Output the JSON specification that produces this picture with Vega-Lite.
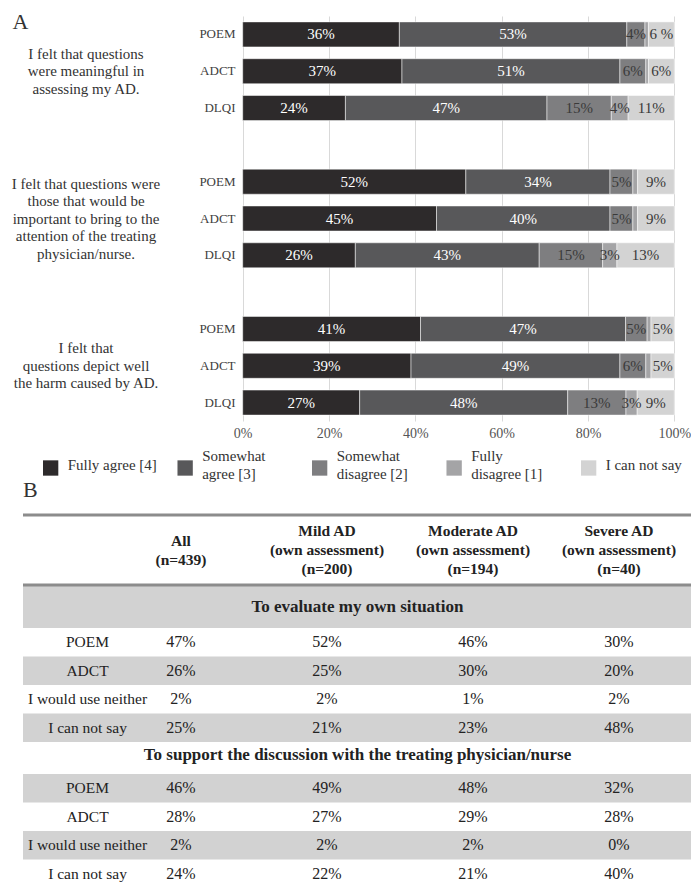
{
  "$schema": "https://vega.github.io/schema/vega-lite/v6.json",
  "background": "white",
  "padding": {"left": 11, "top": 10, "right": 0, "bottom": 0},
  "autosize": {"type": "pad"},
  "bounds": "flush",
  "spacing": 0,
  "datasets": {
    "bars": [
      {"row": "Q1 POEM", "cat": "Fully agree [4]", "score": 4, "pct": 36.3, "label": "36%"},
      {"row": "Q1 POEM", "cat": "Somewhat agree [3]", "score": 3, "pct": 52.7, "label": "53%"},
      {"row": "Q1 POEM", "cat": "Somewhat disagree [2]", "score": 2, "pct": 4.2, "label": "4%"},
      {"row": "Q1 POEM", "cat": "Fully disagree [1]", "score": 1, "pct": 0.8, "label": ""},
      {"row": "Q1 POEM", "cat": "I can not say", "score": 0, "pct": 6.0, "label": "6 %"},
      {"row": "Q1 ADCT", "cat": "Fully agree [4]", "score": 4, "pct": 36.9, "label": "37%"},
      {"row": "Q1 ADCT", "cat": "Somewhat agree [3]", "score": 3, "pct": 50.5, "label": "51%"},
      {"row": "Q1 ADCT", "cat": "Somewhat disagree [2]", "score": 2, "pct": 6.0, "label": "6%"},
      {"row": "Q1 ADCT", "cat": "Fully disagree [1]", "score": 1, "pct": 0.6, "label": ""},
      {"row": "Q1 ADCT", "cat": "I can not say", "score": 0, "pct": 6.0, "label": "6%"},
      {"row": "Q1 DLQI", "cat": "Fully agree [4]", "score": 4, "pct": 23.8, "label": "24%"},
      {"row": "Q1 DLQI", "cat": "Somewhat agree [3]", "score": 3, "pct": 46.7, "label": "47%"},
      {"row": "Q1 DLQI", "cat": "Somewhat disagree [2]", "score": 2, "pct": 14.9, "label": "15%"},
      {"row": "Q1 DLQI", "cat": "Fully disagree [1]", "score": 1, "pct": 3.9, "label": "4%"},
      {"row": "Q1 DLQI", "cat": "I can not say", "score": 0, "pct": 10.7, "label": "11%"},
      {"row": "Q2 POEM", "cat": "Fully agree [4]", "score": 4, "pct": 51.7, "label": "52%"},
      {"row": "Q2 POEM", "cat": "Somewhat agree [3]", "score": 3, "pct": 33.4, "label": "34%"},
      {"row": "Q2 POEM", "cat": "Somewhat disagree [2]", "score": 2, "pct": 5.3, "label": "5%"},
      {"row": "Q2 POEM", "cat": "Fully disagree [1]", "score": 1, "pct": 1.1, "label": ""},
      {"row": "Q2 POEM", "cat": "I can not say", "score": 0, "pct": 8.5, "label": "9%"},
      {"row": "Q2 ADCT", "cat": "Fully agree [4]", "score": 4, "pct": 44.9, "label": "45%"},
      {"row": "Q2 ADCT", "cat": "Somewhat agree [3]", "score": 3, "pct": 40.2, "label": "40%"},
      {"row": "Q2 ADCT", "cat": "Somewhat disagree [2]", "score": 2, "pct": 5.3, "label": "5%"},
      {"row": "Q2 ADCT", "cat": "Fully disagree [1]", "score": 1, "pct": 1.1, "label": ""},
      {"row": "Q2 ADCT", "cat": "I can not say", "score": 0, "pct": 8.5, "label": "9%"},
      {"row": "Q2 DLQI", "cat": "Fully agree [4]", "score": 4, "pct": 26.1, "label": "26%"},
      {"row": "Q2 DLQI", "cat": "Somewhat agree [3]", "score": 3, "pct": 42.6, "label": "43%"},
      {"row": "Q2 DLQI", "cat": "Somewhat disagree [2]", "score": 2, "pct": 14.7, "label": "15%"},
      {"row": "Q2 DLQI", "cat": "Fully disagree [1]", "score": 1, "pct": 3.3, "label": "3%"},
      {"row": "Q2 DLQI", "cat": "I can not say", "score": 0, "pct": 13.3, "label": "13%"},
      {"row": "Q3 POEM", "cat": "Fully agree [4]", "score": 4, "pct": 41.2, "label": "41%"},
      {"row": "Q3 POEM", "cat": "Somewhat agree [3]", "score": 3, "pct": 47.5, "label": "47%"},
      {"row": "Q3 POEM", "cat": "Somewhat disagree [2]", "score": 2, "pct": 5.0, "label": "5%"},
      {"row": "Q3 POEM", "cat": "Fully disagree [1]", "score": 1, "pct": 0.9, "label": ""},
      {"row": "Q3 POEM", "cat": "I can not say", "score": 0, "pct": 5.4, "label": "5%"},
      {"row": "Q3 ADCT", "cat": "Fully agree [4]", "score": 4, "pct": 39.0, "label": "39%"},
      {"row": "Q3 ADCT", "cat": "Somewhat agree [3]", "score": 3, "pct": 48.4, "label": "49%"},
      {"row": "Q3 ADCT", "cat": "Somewhat disagree [2]", "score": 2, "pct": 6.0, "label": "6%"},
      {"row": "Q3 ADCT", "cat": "Fully disagree [1]", "score": 1, "pct": 1.2, "label": ""},
      {"row": "Q3 ADCT", "cat": "I can not say", "score": 0, "pct": 5.4, "label": "5%"},
      {"row": "Q3 DLQI", "cat": "Fully agree [4]", "score": 4, "pct": 27.1, "label": "27%"},
      {"row": "Q3 DLQI", "cat": "Somewhat agree [3]", "score": 3, "pct": 48.2, "label": "48%"},
      {"row": "Q3 DLQI", "cat": "Somewhat disagree [2]", "score": 2, "pct": 13.5, "label": "13%"},
      {"row": "Q3 DLQI", "cat": "Fully disagree [1]", "score": 1, "pct": 2.6, "label": "3%"},
      {"row": "Q3 DLQI", "cat": "I can not say", "score": 0, "pct": 8.6, "label": "9%"}
    ],
    "questions": [
      {"row": "Q1 ADCT", "text": "I felt that questions\nwere meaningful in\nassessing my AD."},
      {"row": "Q2 ADCT", "text": "I felt that questions were\nthose that would be\nimportant to bring to the\nattention of the treating\nphysician/nurse."},
      {"row": "Q3 ADCT", "text": "I felt that\nquestions depict well\nthe harm caused by AD."}
    ],
    "legend": [
      {"cat": "Fully agree [4]", "label": "Fully agree [4]"},
      {"cat": "Somewhat agree [3]", "label": "Somewhat\nagree [3]"},
      {"cat": "Somewhat disagree [2]", "label": "Somewhat\ndisagree [2]"},
      {"cat": "Fully disagree [1]", "label": "Fully\ndisagree [1]"},
      {"cat": "I can not say", "label": "I can not say"}
    ],
    "headers": [
      {"group": "All", "text": "All\n(n=439)"},
      {"group": "Mild", "text": "Mild AD\n(own assessment)\n(n=200)"},
      {"group": "Moderate", "text": "Moderate AD\n(own assessment)\n(n=194)"},
      {"group": "Severe", "text": "Severe AD\n(own assessment)\n(n=40)"}
    ],
    "table": [
      {"purpose": "own", "item": "POEM", "group": "All", "share": 0.47},
      {"purpose": "own", "item": "POEM", "group": "Mild", "share": 0.52},
      {"purpose": "own", "item": "POEM", "group": "Moderate", "share": 0.46},
      {"purpose": "own", "item": "POEM", "group": "Severe", "share": 0.30},
      {"purpose": "own", "item": "ADCT", "group": "All", "share": 0.26},
      {"purpose": "own", "item": "ADCT", "group": "Mild", "share": 0.25},
      {"purpose": "own", "item": "ADCT", "group": "Moderate", "share": 0.30},
      {"purpose": "own", "item": "ADCT", "group": "Severe", "share": 0.20},
      {"purpose": "own", "item": "I would use neither", "group": "All", "share": 0.02},
      {"purpose": "own", "item": "I would use neither", "group": "Mild", "share": 0.02},
      {"purpose": "own", "item": "I would use neither", "group": "Moderate", "share": 0.01},
      {"purpose": "own", "item": "I would use neither", "group": "Severe", "share": 0.02},
      {"purpose": "own", "item": "I can not say", "group": "All", "share": 0.25},
      {"purpose": "own", "item": "I can not say", "group": "Mild", "share": 0.21},
      {"purpose": "own", "item": "I can not say", "group": "Moderate", "share": 0.23},
      {"purpose": "own", "item": "I can not say", "group": "Severe", "share": 0.48},
      {"purpose": "discuss", "item": "POEM", "group": "All", "share": 0.46},
      {"purpose": "discuss", "item": "POEM", "group": "Mild", "share": 0.49},
      {"purpose": "discuss", "item": "POEM", "group": "Moderate", "share": 0.48},
      {"purpose": "discuss", "item": "POEM", "group": "Severe", "share": 0.32},
      {"purpose": "discuss", "item": "ADCT", "group": "All", "share": 0.28},
      {"purpose": "discuss", "item": "ADCT", "group": "Mild", "share": 0.27},
      {"purpose": "discuss", "item": "ADCT", "group": "Moderate", "share": 0.29},
      {"purpose": "discuss", "item": "ADCT", "group": "Severe", "share": 0.28},
      {"purpose": "discuss", "item": "I would use neither", "group": "All", "share": 0.02},
      {"purpose": "discuss", "item": "I would use neither", "group": "Mild", "share": 0.02},
      {"purpose": "discuss", "item": "I would use neither", "group": "Moderate", "share": 0.02},
      {"purpose": "discuss", "item": "I would use neither", "group": "Severe", "share": 0.0},
      {"purpose": "discuss", "item": "I can not say", "group": "All", "share": 0.24},
      {"purpose": "discuss", "item": "I can not say", "group": "Mild", "share": 0.22},
      {"purpose": "discuss", "item": "I can not say", "group": "Moderate", "share": 0.21},
      {"purpose": "discuss", "item": "I can not say", "group": "Severe", "share": 0.40}
    ]
  },
  "vconcat": [
    {
      "width": 669, "height": 405,
      "encoding": {
        "y": {"field": "row", "type": "nominal", "title": null,
          "scale": {"domain": ["Q1 POEM","Q1 ADCT","Q1 DLQI","gap 1","Q2 POEM","Q2 ADCT","Q2 DLQI","gap 2","Q3 POEM","Q3 ADCT","Q3 DLQI"], "paddingInner": 0.32, "paddingOuter": 0.16},
          "axis": {"ticks": false, "domain": false, "offset": -212, "labelPadding": 0, "labelFontSize": 13, "labelColor": "#404040",
            "labelExpr": "indexof(datum.value, 'gap') == 0 ? '' : slice(datum.value, 3)"}}
      },
      "layer": [
        {
          "data": {"name": "bars"},
          "mark": {"type": "bar", "stroke": "white", "strokeWidth": 0.5},
          "encoding": {
            "x": {"field": "pct", "type": "quantitative", "stack": "zero", "title": null,
              "scale": {"domain": [-50.9, 104.1], "nice": false, "zero": false},
              "axis": {"values": [0, 20, 40, 60, 80, 100], "labelExpr": "datum.value + '%'", "grid": true, "gridColor": "#d9d9d9",
                "domain": false, "ticks": false, "labelFontSize": 14, "labelColor": "#555", "labelPadding": 5, "labelFlush": false}},
            "color": {"field": "cat", "type": "nominal", "legend": null,
              "scale": {"domain": ["Fully agree [4]","Somewhat agree [3]","Somewhat disagree [2]","Fully disagree [1]","I can not say"],
                "range": ["#2d2a2b","#58585a","#7e7e80","#a4a4a6","#d3d3d3"]}},
            "order": {"field": "score", "sort": "descending"}
          }
        },
        {
          "data": {"name": "bars"},
          "mark": {"type": "text", "fontSize": 15, "baseline": "middle"},
          "encoding": {
            "x": {"field": "pct", "type": "quantitative", "stack": "zero", "bandPosition": 0.5},
            "detail": {"field": "cat"},
            "order": {"field": "score", "sort": "descending"},
            "text": {"field": "label"},
            "color": {"condition": {"test": "datum.score >= 3", "value": "white"}, "value": "#3a3a3a"}
          }
        },
        {
          "data": {"name": "questions"},
          "transform": [{"filter": "datum.row != 'Q2 ADCT'"}],
          "mark": {"type": "text", "lineBreak": "\n", "fontSize": 15, "lineHeight": 17.5, "color": "#333", "baseline": "middle", "dy": -17.5},
          "encoding": {
            "x": {"datum": -36.3, "type": "quantitative"},
            "text": {"field": "text"}
          }
        },
        {
          "data": {"name": "questions"},
          "transform": [{"filter": "datum.row == 'Q2 ADCT'"}],
          "mark": {"type": "text", "lineBreak": "\n", "fontSize": 15, "lineHeight": 17.5, "color": "#333", "baseline": "middle", "dy": -35},
          "encoding": {
            "x": {"datum": -36.3, "type": "quantitative"},
            "text": {"field": "text"}
          }
        },
        {
          "data": {"values": [{"t": "A"}]},
          "mark": {"type": "text", "fontSize": 22, "color": "#333", "baseline": "middle"},
          "encoding": {
            "x": {"datum": -51.5, "type": "quantitative"},
            "y": {"datum": "Q1 POEM", "type": "nominal", "bandPosition": 0},
            "text": {"field": "t"}
          }
        }
      ]
    },
    {
      "width": 669, "height": 94,
      "data": {"name": "legend"},
      "encoding": {
        "x": {"field": "cat", "type": "nominal", "axis": null,
          "scale": {"type": "point", "domain": ["Fully agree [4]","Somewhat agree [3]","Somewhat disagree [2]","Fully disagree [1]","I can not say"], "padding": 0.487, "align": 0.211}}
      },
      "layer": [
        {
          "mark": {"type": "square", "size": 235, "opacity": 1, "dy": -3},
          "encoding": {"color": {"field": "cat", "type": "nominal", "legend": null}}
        },
        {
          "transform": [{"filter": "indexof(datum.label, '\\n') < 0"}],
          "mark": {"type": "text", "align": "left", "dx": 17, "dy": -3, "fontSize": 15, "color": "#333", "baseline": "middle"},
          "encoding": {"text": {"field": "label"}}
        },
        {
          "transform": [{"filter": "indexof(datum.label, '\\n') >= 0"}],
          "mark": {"type": "text", "align": "left", "dx": 17, "dy": -12, "lineBreak": "\n", "fontSize": 15, "lineHeight": 18, "color": "#333", "baseline": "middle"},
          "encoding": {"text": {"field": "label"}}
        }
      ]
    },
    {
      "width": 669, "height": 70,
      "title": {"text": "B", "anchor": "start", "fontSize": 22, "fontWeight": "normal", "color": "#333", "font": "Liberation Serif", "offset": 13},
      "view": {"stroke": "#8c8c8c", "strokeWidth": 3, "strokeDash": [669, 809]},
      "data": {"name": "headers"},
      "encoding": {
        "x": {"field": "group", "type": "nominal", "axis": null,
          "scale": {"type": "band", "domain": ["All","Mild","Moderate","Severe"], "paddingInner": 0, "paddingOuter": 0.2911, "align": 1}},
        "text": {"field": "text"}
      },
      "layer": [
        {
          "transform": [{"filter": "datum.group == 'All'"}],
          "mark": {"type": "text", "fontWeight": "bold", "fontSize": 15.5, "lineBreak": "\n", "lineHeight": 19, "color": "#222", "baseline": "middle", "dy": -9.5}
        },
        {
          "transform": [{"filter": "datum.group != 'All'"}],
          "mark": {"type": "text", "fontWeight": "bold", "fontSize": 15.5, "lineBreak": "\n", "lineHeight": 19, "color": "#222", "baseline": "middle", "dy": -19}
        }
      ]
    },
    {
      "width": 669, "height": 43,
      "view": {"fill": "#d2d2d2", "stroke": "#8c8c8c", "strokeWidth": 3, "strokeDash": [669, 755]},
      "data": {"values": [{"t": "To evaluate my own situation"}]},
      "mark": {"type": "text", "fontWeight": "bold", "fontSize": 17, "color": "#222", "baseline": "middle"},
      "encoding": {"text": {"field": "t"}}
    },
    {
      "width": 669, "height": 114,
      "data": {"name": "table"},
      "transform": [{"filter": "datum.purpose == 'own'"}],
      "encoding": {
        "y": {"field": "item", "type": "nominal", "title": null,
          "scale": {"domain": ["POEM","ADCT","I would use neither","I can not say"], "paddingInner": 0, "paddingOuter": 0},
          "axis": {"orient": "left", "offset": -64, "labelAlign": "center", "labelBaseline": "middle", "labelPadding": 0,
            "ticks": false, "domain": false, "zindex": 1, "labelFontSize": 15.5, "labelColor": "#222", "labelLimit": 0}}
      },
      "layer": [
        {
          "transform": [{"filter": "datum.group == 'All' && (datum.item == 'ADCT' || datum.item == 'I can not say')"}],
          "mark": {"type": "bar", "color": "#d2d2d2"}
        },
        {
          "mark": {"type": "text", "fontSize": 16, "color": "#222", "baseline": "middle"},
          "encoding": {
            "x": {"field": "group", "type": "nominal", "axis": null,
              "scale": {"type": "band", "domain": ["All","Mild","Moderate","Severe"], "paddingInner": 0, "paddingOuter": 0.2911, "align": 1}},
            "text": {"field": "share", "type": "quantitative", "format": ".0%"}
          }
        }
      ]
    },
    {
      "width": 669, "height": 32,
      "data": {"values": [{"t": "To support the discussion with the treating physician/nurse"}]},
      "mark": {"type": "text", "fontWeight": "bold", "fontSize": 17, "color": "#222", "baseline": "middle", "dy": -3},
      "encoding": {"text": {"field": "t"}}
    },
    {
      "width": 669, "height": 114,
      "data": {"name": "table"},
      "transform": [{"filter": "datum.purpose == 'discuss'"}],
      "encoding": {
        "y": {"field": "item", "type": "nominal", "title": null,
          "scale": {"domain": ["POEM","ADCT","I would use neither","I can not say"], "paddingInner": 0, "paddingOuter": 0},
          "axis": {"orient": "left", "offset": -64, "labelAlign": "center", "labelBaseline": "middle", "labelPadding": 0,
            "ticks": false, "domain": false, "zindex": 1, "labelFontSize": 15.5, "labelColor": "#222", "labelLimit": 0}}
      },
      "layer": [
        {
          "transform": [{"filter": "datum.group == 'All' && (datum.item == 'POEM' || datum.item == 'I would use neither')"}],
          "mark": {"type": "bar", "color": "#d2d2d2"}
        },
        {
          "mark": {"type": "text", "fontSize": 16, "color": "#222", "baseline": "middle"},
          "encoding": {
            "x": {"field": "group", "type": "nominal", "axis": null,
              "scale": {"type": "band", "domain": ["All","Mild","Moderate","Severe"], "paddingInner": 0, "paddingOuter": 0.2911, "align": 1}},
            "text": {"field": "share", "type": "quantitative", "format": ".0%"}
          }
        }
      ]
    }
  ],
  "config": {
    "font": "Liberation Serif",
    "view": {"stroke": null},
    "text": {"font": "Liberation Serif"},
    "axis": {"labelFont": "Liberation Serif"}
  }
}
